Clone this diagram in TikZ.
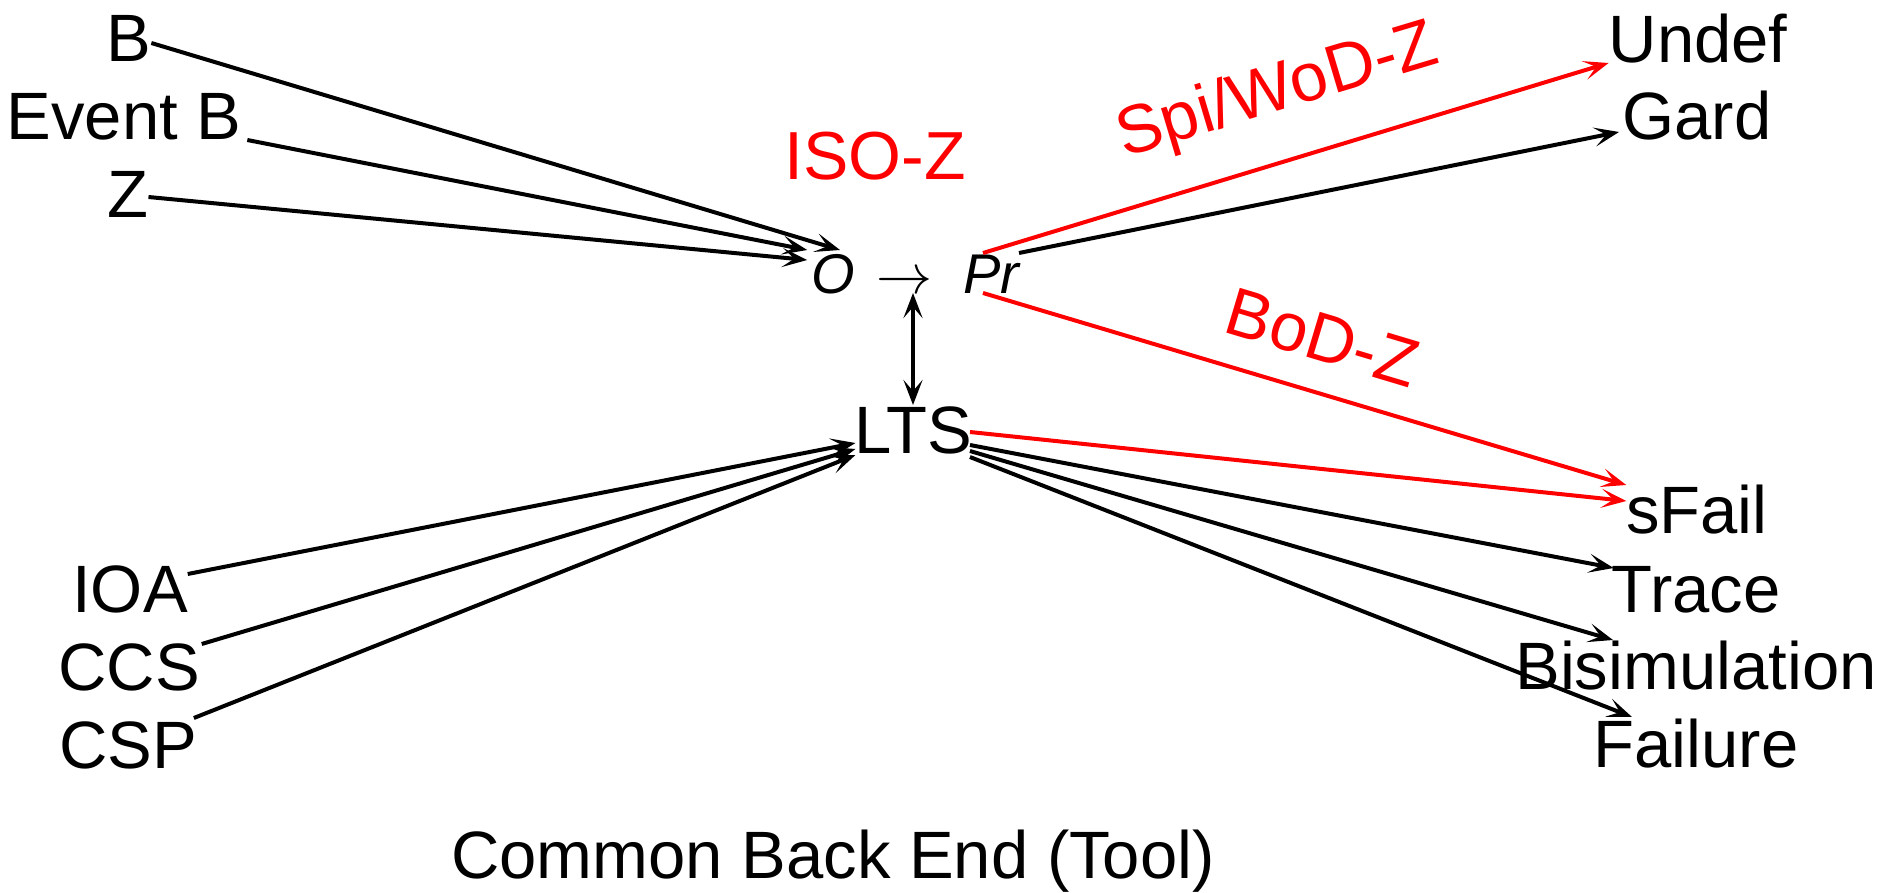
\documentclass[tikz,border=0pt]{standalone}
\usepackage{fix-cm}
\usepackage{fontspec}
\setmainfont{Liberation Sans}
\usetikzlibrary{arrows.meta}

\begin{document}
\begin{tikzpicture}[x=0.5pt,y=-0.5pt,
  lbl/.style={inner sep=0pt, outer sep=0pt, anchor=base, text height=24pt, text depth=0pt,
    font=\fontsize{33.5}{40}\selectfont},
  redlbl/.style={inner sep=0pt, outer sep=0pt, anchor=base, text=red,
    font=\fontsize{34}{40}\selectfont},
  sym/.style={inner sep=0pt, outer sep=0pt, anchor=base, text height=20pt, text depth=0pt,
    font=\fontsize{28}{34}\selectfont\itshape},
  conn/.style={line width=2pt, -{Stealth[length=12.5pt,width=9.5pt,inset=6pt]}},
  redconn/.style={conn, draw=red},
  dbl/.style={line width=2pt,
    {Stealth[length=12.5pt,width=9.5pt,inset=5.5pt]}-{Stealth[length=12.5pt,width=9.5pt,inset=5.5pt]}}
]
\useasboundingbox (0,0) rectangle (1900,893);

% source notations
\node[lbl] (B)   at (129,62)  {B};
\node[lbl] (EvB) at (124,140) {Event B};
\node[lbl] (Z)   at (128,218) {Z};
\node[lbl] (IOA) at (130,612) {IOA};
\node[lbl] (CCS) at (129,690) {CCS};
\node[lbl] (CSP) at (128,768) {CSP};

% centre: O -> Pr and LTS
\node[sym] (O) at (833,293) {O};
\node[inner sep=0pt, outer sep=0pt, anchor=base, font=\fontsize{28}{34}\selectfont] (arr) at (904,293) {$\rightarrow$};
\node[sym] (Pr) at (991,293) {Pr};
\node[lbl] (LTS) at (913,453) {LTS};

% refinement relations
\node[lbl] (Undef)   at (1698,63)  {Undef};
\node[lbl] (Gard)    at (1697,140) {Gard};
\node[lbl] (sFail)   at (1697,533) {sFail};
\node[lbl] (Trace)   at (1696,612) {Trace};
\node[lbl] (Bisim)   at (1696,689) {Bisimulation};
\node[lbl] (Failure) at (1696,767) {Failure};

% red labels
\node[redlbl] (iso) at (875,180) {ISO-Z};
\node[redlbl, rotate=16.7] (spi) at (1283,110) {Spi/WoD-Z};
\node[redlbl, rotate=-16.7] (bod) at (1316,360) {BoD-Z};

\node[lbl] (cap) at (833,878) {Common Back End (Tool)};

% into O
\draw[conn] ([yshift=-2.5pt]B.east) -- ([xshift=3.5pt,yshift=1.5pt]O.north);
\draw[conn] ([xshift=3pt]EvB.south east) -- ([xshift=-2pt,yshift=1.5pt]O.north west);
\draw[conn] ([yshift=-1.5pt]Z.east) -- ([xshift=-2pt,yshift=-3.5pt]O.north west);

% out of Pr
\draw[redconn] ([xshift=-4pt]Pr.north) -- (Undef.south west);
\draw[conn] (Pr.north east) -- ([xshift=-1.75pt,yshift=4pt]Gard.south west);
\draw[redconn] ([xshift=-4pt]Pr.south) -- (sFail.north west);

% out of LTS
\draw[redconn] ([xshift=-1pt,yshift=-1.5pt]LTS.east) -- ([yshift=4pt]sFail.west);
\draw[conn] ([xshift=-1pt,yshift=-8pt]LTS.east) -- ([xshift=1pt,yshift=-2pt]Trace.north west);
\draw[conn] ([xshift=-1pt,yshift=-11pt]LTS.east) -- ([xshift=-41.5pt,yshift=0.5pt]Bisim.north);
\draw[conn] ([xshift=-1pt,yshift=-14pt]LTS.east) -- ([xshift=19.2pt,yshift=1pt]Failure.north west);

% into LTS
\draw[conn] ([yshift=-5pt]IOA.north east) -- ([xshift=0.7pt,yshift=-7pt]LTS.west);
\draw[conn] ([xshift=1pt,yshift=-1pt]CCS.north east) -- ([xshift=0.7pt,yshift=-10pt]LTS.west);
\draw[conn] ([xshift=-1.5pt,yshift=1pt]CSP.north east) -- ([xshift=0.7pt,yshift=-13pt]LTS.west);

% O -> Pr  <->  LTS
\draw[dbl] (LTS.north |- arr.south) -- (LTS.north);
\end{tikzpicture}
\end{document}
